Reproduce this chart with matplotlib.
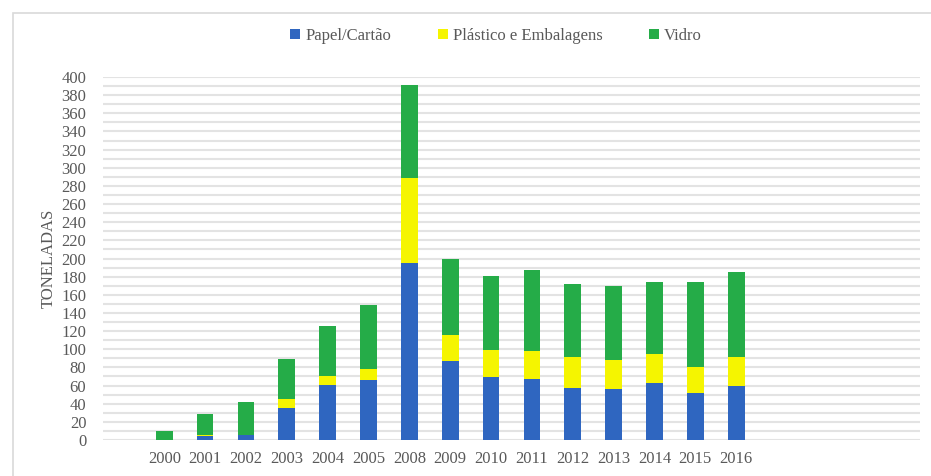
import numpy as np
import matplotlib
matplotlib.use('Agg')
import matplotlib.pyplot as plt
from matplotlib.patches import Rectangle

years = ["2000", "2001", "2002", "2003", "2004", "2005", "2008", "2009",
         "2010", "2011", "2012", "2013", "2014", "2015", "2016"]
papel = [0, 4, 5, 35, 61, 66, 195, 87, 69, 67, 57, 56, 63, 52, 60]
plastico = [0, 1, 1, 10, 9, 12, 94, 29, 30, 31, 34, 32, 32, 28, 31]
vidro = [10, 24, 36, 44, 56, 71, 102, 84, 82, 89, 81, 82, 79, 94, 94]

series_names = ["Papel/Cartão", "Plástico e Embalagens", "Vidro"]
colors = ["#2F66C0", "#F5F500", "#25AC48"]
text_color = "#595959"

plt.rcParams['font.family'] = ['Liberation Serif', 'DejaVu Serif']

fig = plt.figure(figsize=(9.31, 4.76), dpi=100)
fig.patches.append(Rectangle((13 / 931, -0.1), 1.2, 1 - 13 / 476 + 0.1,
                             transform=fig.transFigure, fill=False,
                             edgecolor="#d9d9d9", linewidth=1.2))
ax = fig.add_axes([103 / 931, 1 - 440 / 476, (920 - 103) / 931, (440 - 77) / 476])

x = np.arange(len(years))
w = 0.41
bottom = np.zeros(len(years))
for vals, name, c in zip([papel, plastico, vidro], series_names, colors):
    ax.bar(x, vals, w, bottom=bottom, color=c, label=name, zorder=3)
    bottom += np.array(vals)

ax.set_xlim(-1.5, 18.5)
ax.set_ylim(0, 400)
ax.set_yticks(np.arange(0, 401, 20))
ax.set_yticks(np.arange(10, 400, 20), minor=True)
ax.set_xticks(x)
ax.set_xticklabels(years)
ax.grid(axis='y', which='both', color="#e3e3e3", linewidth=1.5, zorder=0)
ax.tick_params(axis='both', which='both', length=0, labelsize=12, colors=text_color)
ax.tick_params(axis='y', pad=12)
ax.tick_params(axis='x', pad=8)
for s in ax.spines.values():
    s.set_visible(False)
ax.set_ylabel("TONELADAS", fontsize=12, color=text_color, labelpad=3)

fig.legend(loc='center', bbox_to_anchor=(496 / 931, 1 - 36 / 476), ncol=3,
           frameon=False, fontsize=12, handlelength=0.6, handleheight=0.6,
           handletextpad=0.3, columnspacing=2.8, labelcolor=text_color)

fig.savefig("out.png", dpi=100)
